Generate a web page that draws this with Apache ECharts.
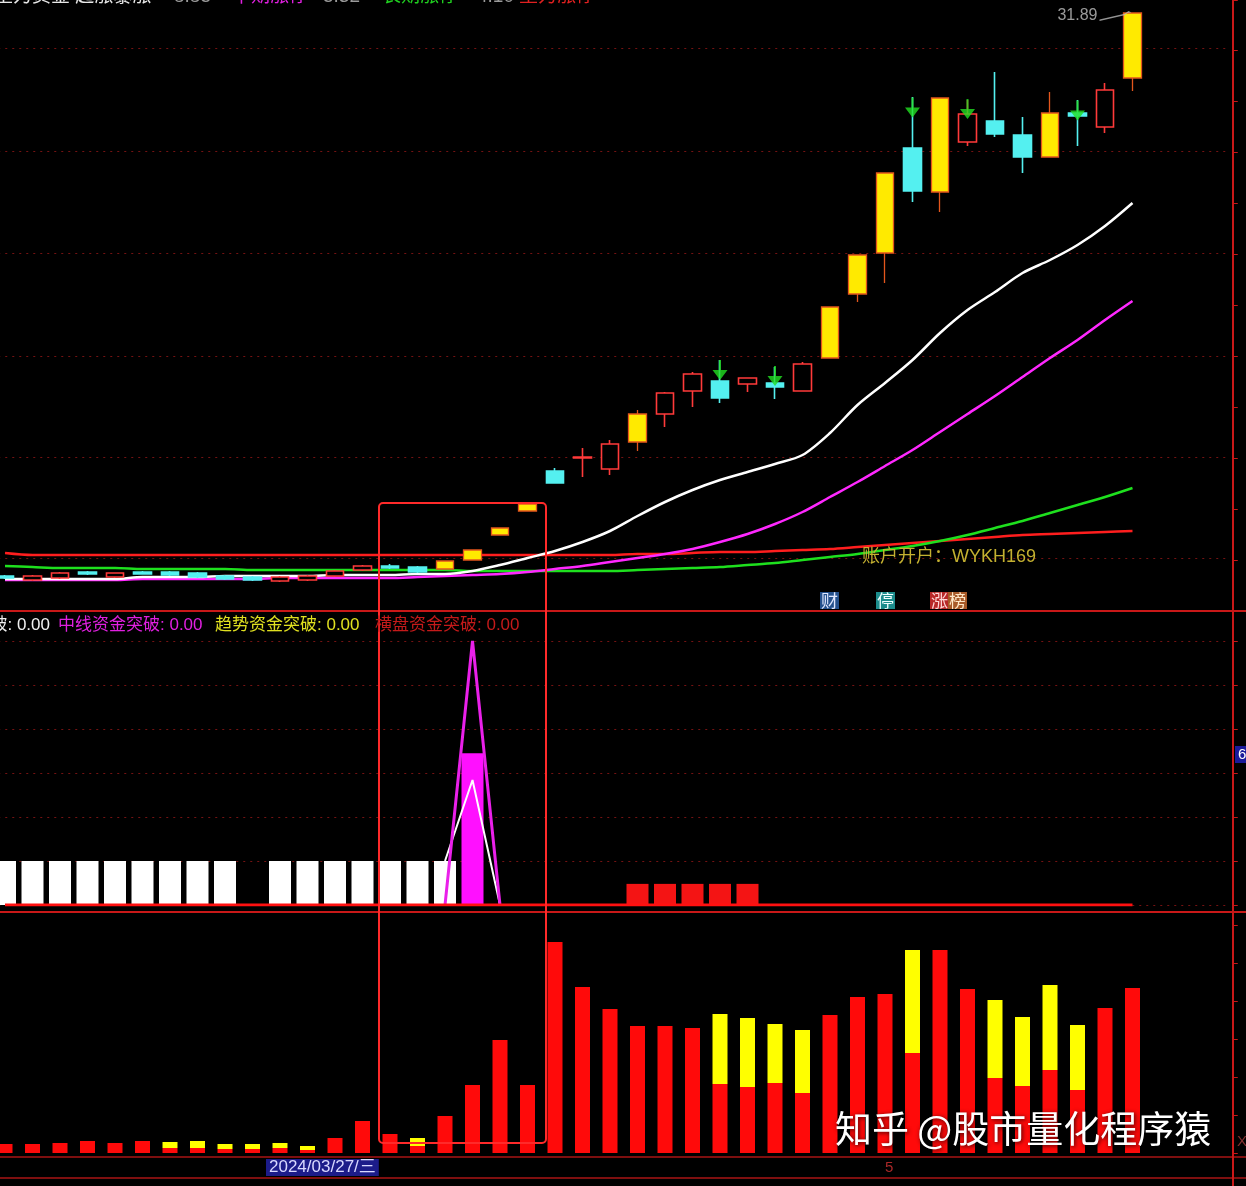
<!DOCTYPE html>
<html><head><meta charset="utf-8">
<script src="https://cdn.jsdelivr.net/npm/echarts@6/dist/echarts.min.js"></script>
<style>html,body{margin:0;padding:0;background:#000;overflow:hidden}#c{width:1246px;height:1186px}</style>
</head><body><div id="c"></div>
<script>
// ---------- data ----------
const dates = ['2024/03/14','2024/03/15','2024/03/18','2024/03/19','2024/03/20','2024/03/21','2024/03/22','2024/03/25','2024/03/26','2024/03/27','2024/03/28','2024/03/29','2024/04/01','2024/04/02','2024/04/03','2024/04/08','2024/04/09','2024/04/10','2024/04/11','2024/04/12','2024/04/15','2024/04/16','2024/04/17','2024/04/18','2024/04/19','2024/04/22','2024/04/23','2024/04/24','2024/04/25','2024/04/26','2024/04/29','2024/04/30','2024/05/06','2024/05/07','2024/05/08','2024/05/09','2024/05/10','2024/05/13','2024/05/14','2024/05/15','2024/05/16','2024/05/17','2024/05/20','2024/05/21','2024/05/22'];
const openP  = [9.37,9.21,9.29,9.53,9.33,9.53,9.53,9.49,9.37,9.33,9.17,9.21,9.37,9.61,9.77,9.73,9.65,10.01,11.01,11.97,13.57,14.09,13.65,14.73,15.85,16.77,17.17,17.05,17.09,16.77,18.09,20.65,22.29,26.49,24.73,26.73,27.57,27.01,26.13,27.89,27.33,29.29];
const closeP = [9.29,9.37,9.49,9.45,9.49,9.45,9.41,9.33,9.25,9.21,9.33,9.37,9.57,9.77,9.69,9.53,9.97,10.41,11.29,12.25,13.09,14.13,14.65,15.85,16.69,17.45,16.49,17.29,16.93,17.85,20.13,22.21,25.49,24.77,28.49,27.85,27.05,26.13,27.89,27.77,28.81,31.89];
const lowP   = [9.25,9.17,9.25,9.41,9.29,9.45,9.37,9.29,9.21,9.17,9.13,9.17,9.33,9.57,9.65,9.49,9.65,10.01,11.01,11.97,13.09,13.33,13.41,14.37,15.33,16.13,16.29,16.73,16.45,16.77,18.09,20.33,21.09,24.33,23.93,26.57,26.93,25.49,26.13,26.57,27.09,28.77];
const highP  = [9.41,9.41,9.53,9.57,9.49,9.57,9.57,9.53,9.41,9.37,9.37,9.41,9.61,9.81,9.85,9.77,9.97,10.41,11.29,12.25,13.69,14.49,14.81,16.01,16.73,17.53,18.01,17.29,17.73,17.93,20.13,22.21,25.49,28.53,28.49,28.41,29.53,27.73,28.73,28.41,29.09,31.89];
const limitUpIdx = [16,17,18,19,23,30,31,32,34,38,41];
const maWhite   = [9.25,9.25,9.25,9.25,9.25,9.33,9.33,9.33,9.37,9.37,9.37,9.37,9.41,9.41,9.41,9.45,9.45,9.57,9.81,10.09,10.37,10.73,11.17,11.77,12.33,12.81,13.21,13.53,13.85,14.21,15.09,16.21,17.09,18.01,19.09,20.01,20.73,21.49,22.01,22.61,23.37,24.29];
const maMagenta = [9.21,9.21,9.21,9.21,9.21,9.25,9.25,9.25,9.25,9.25,9.29,9.29,9.29,9.29,9.29,9.33,9.37,9.41,9.45,9.53,9.65,9.77,9.93,10.09,10.25,10.45,10.73,11.05,11.45,11.93,12.53,13.13,13.77,14.41,15.13,15.85,16.57,17.33,18.09,18.81,19.61,20.37];
const maGreen   = [9.77,9.73,9.69,9.69,9.69,9.65,9.65,9.65,9.65,9.61,9.61,9.61,9.61,9.61,9.61,9.61,9.61,9.57,9.57,9.57,9.57,9.57,9.57,9.61,9.65,9.69,9.73,9.81,9.89,10.01,10.13,10.25,10.41,10.57,10.77,11.01,11.29,11.57,11.89,12.21,12.53,12.89];
const maRed     = [10.29,10.21,10.21,10.21,10.21,10.21,10.21,10.21,10.21,10.21,10.21,10.21,10.21,10.21,10.21,10.21,10.21,10.21,10.21,10.21,10.21,10.21,10.21,10.25,10.25,10.29,10.33,10.33,10.37,10.41,10.45,10.53,10.61,10.69,10.77,10.85,10.93,11.01,11.05,11.09,11.13,11.17];
const arrowSignals = [[26,17.61],[28,17.37],[33,28.11],[35,28.05],[39,27.99]];
const priceGrid = [30.49,26.37,22.29,18.17,14.13,10.09];
const _ = null;
const whiteStick = [1,1,1,1,1,1,1,1,1,0,1,1,1,1,1,1,1,0,0,0,0,0,0,0,0,0,0,0,0,0,0,0,0,0,0,0,0,0,0,0,0,0];
const spikeBar   = [0,0,0,0,0,0,0,0,0,0,0,0,0,0,0,0,0,3.45,0,0,0,0,0,0,0,0,0,0,0,0,0,0,0,0,0,0,0,0,0,0,0,0];
const spikeOuter = [_,_,_,_,_,_,_,_,_,_,_,_,_,_,_,_,0,6,0,_,_,_,_,_,_,_,_,_,_,_,_,_,_,_,_,_,_,_,_,_,_,_];
const spikeInner = [_,_,_,_,_,_,_,_,_,_,_,_,_,_,_,_,1,2.84,0,_,_,_,_,_,_,_,_,_,_,_,_,_,_,_,_,_,_,_,_,_,_,_];
const redBlock   = [0,0,0,0,0,0,0,0,0,0,0,0,0,0,0,0,0,0,0,0,0,0,0,0.48,0.48,0.48,0.48,0.48,0,0,0,0,0,0,0,0,0,0,0,0,0,0];
const baseZero   = [0,0,0,0,0,0,0,0,0,0,0,0,0,0,0,0,0,0,0,0,0,0,0,0,0,0,0,0,0,0,0,0,0,0,0,0,0,0,0,0,0,0];
const volRed    = [9,9,10,12,10,12,5,5,4,4,5,3,15,32,19,7,37,68,113,68,211,166,144,127,127,125,69,66,70,60,138,156,159,100,203,164,75,67,83,63,145,165];
const volYellow = [0,0,0,0,0,0,6,7,5,5,5,4,0,0,0,8,0,0,0,0,0,0,0,0,0,0,70,69,59,63,0,0,0,103,0,0,78,69,85,65,0,0];
const headerTexts = [['主力资金 起涨暴涨','#e8e8e8',-6],['8.85','#9a9a9a',174],['中期涨停','#e020e0',232],['5.32','#9a9a9a',323],['长期涨停','#20d020',382],['4.10','#9a9a9a',477],['主力涨停','#e02020',519]];
const midLegend = [['短线资金突破: 0.00','#f0f0f0'],['中线资金突破: 0.00','#e020e0'],['趋势资金突破: 0.00','#e0e020'],['横盘资金突破: 0.00','#c41a1a']];
const watermark = '知乎 @股市量化程序猿';
const accountText = '账户开户：WYKH169';

// ---------- build ----------
const EN = '"Liberation Sans","Noto Sans CJK SC",sans-serif';
const CN = '"Noto Sans CJK SC",sans-serif';
const RED = '#c81818';
const kData = openP.map((o,i)=>{
  const it = {value:[o, closeP[i], lowP[i], highP[i]]};
  if (limitUpIdx.includes(i)) it.itemStyle = {color:'#ffea00', color0:'#ffea00', borderColor:'#e4561c', borderColor0:'#e4561c', borderWidth:1.3};
  return it;
});
const maxHigh = Math.max(...highP);
const maxIdx = highP.indexOf(maxHigh);
const weekNames = ['日','一','二','三','四','五','六'];
const cursorIdx = 9;
const cd = dates[cursorIdx].split('/').map(Number);
const cursorLabel = dates[cursorIdx] + '/' + weekNames[new Date(cd[0], cd[1]-1, cd[2]).getDay()];

const gridBase = {left:-8.75, width:1237.5, containLabel:false, outerBoundsMode:'none'};
const xAx = (gi, extra) => Object.assign({type:'category', gridIndex:gi, data:dates, boundaryGap:true,
  axisLine:{show:false}, axisTick:{show:false}, axisLabel:{show:false}, splitLine:{show:false}}, extra||{});
const yAx = (gi, extra) => Object.assign({type:'value', gridIndex:gi, position:'right', offset:4, scale:true,
  axisLine:{show:true, lineStyle:{color:RED, width:2}},
  axisTick:{show:true, inside:false, length:5, lineStyle:{color:RED}},
  axisLabel:{show:false}, splitLine:{show:false}}, extra||{});
const dotted = {show:true, lineStyle:{color:'#741212', type:[2,5], width:1}};

const graphics = [];
headerTexts.forEach(([t,c,x])=>graphics.push({type:'text', x:x, y:-13, z:100, style:{text:t, fill:c, fontSize:19, fontFamily:EN}}));
// middle legend
graphics.push({type:'text', x:50, y:617, z:100, style:{text:midLegend[0][0], fill:midLegend[0][1], fontSize:17, fontFamily:EN, align:'right'}});
[[58,1],[215,2],[375,3]].forEach(([x,k])=>graphics.push({type:'text', x:x, y:617, z:100, style:{text:midLegend[k][0], fill:midLegend[k][1], fontSize:17, fontFamily:EN}}));
graphics.push({type:'text', x:862, y:548, z:100, style:{text:accountText, fill:'#c4b030', fontSize:18, fontFamily:EN}});
[['财',820,'#24508c','#e0e8ff'],['停',876,'#1c8c8c','#f0ffff'],['涨',930,'#b82828','#ffd8d8'],['榜',948,'#a85a28','#ffe8c8']].forEach(([t,x,bg,fc])=>
  graphics.push({type:'text', x:x, y:592, z:100, style:{text:t, fill:fc, fontSize:17, fontFamily:CN, backgroundColor:bg, padding:[0,1]}}));
// frame
[[611,2,RED],[912,2,RED],[1157,1.5,'#a81414'],[1178,1.5,'#a81414']].forEach(([y,w,c])=>
  graphics.push({type:'line', z:90, shape:{x1:0,y1:y,x2:1246,y2:y}, style:{stroke:c, lineWidth:w}}));
graphics.push({type:'line', z:90, shape:{x1:1233,y1:0,x2:1233,y2:1186}, style:{stroke:RED, lineWidth:2}});
// annotation box
graphics.push({type:'rect', z:95, shape:{x:379,y:503,width:167,height:640,r:4}, style:{fill:'none', stroke:'#ff2a2a', lineWidth:2}});
// date cursor label
graphics.push({type:'text', x:266, y:1159, z:100, style:{text:cursorLabel, fill:'#d8d8ff', fontSize:17, fontFamily:EN, backgroundColor:'#1c1c8a', padding:[0,3]}});
// right axis value box
graphics.push({type:'text', x:1235, y:746, z:100, style:{text:'6', fill:'#ffffff', fontSize:15, fontFamily:EN, backgroundColor:'#1a1a9a', padding:[1,3]}});
graphics.push({type:'text', x:1237, y:1134, z:100, style:{text:'X', fill:'#803030', fontSize:15, fontFamily:EN}});
// watermark
graphics.push({type:'text', x:835, y:1110, z:100, style:{text:watermark, fill:'#ffffff', fontSize:37, fontFamily:CN, textShadowColor:'rgba(0,0,0,0.8)', textShadowBlur:4, textShadowOffsetX:1, textShadowOffsetY:1}});

const option = {
  backgroundColor:'#000000',
  animation:false,
  grid:[
    Object.assign({top:0, height:611}, gridBase),
    Object.assign({top:611, height:294}, gridBase),
    Object.assign({top:912, height:241}, gridBase)
  ],
  xAxis:[ xAx(0), xAx(1), xAx(2, {axisLabel:{show:true, margin:7, align:'left', color:'#a82828', fontSize:15, fontFamily:EN,
      interval:(idx,val)=> idx>0 && val.slice(5,7)!==dates[idx-1].slice(5,7),
      formatter:(v)=>String(parseInt(v.slice(5,7),10))}}) ],
  yAxis:[
    yAx(0, {min:7.97, max:32.41, interval:2.04, scale:false}),
    yAx(1, {min:0, max:6.682, interval:1, scale:false, splitLine:dotted}),
    yAx(2, {min:0, max:241, interval:38, scale:false})
  ],
  series:[
    {type:'line', name:'grid', xAxisIndex:0, yAxisIndex:0, data:[], z:1,
      markLine:{silent:true, z:1, symbol:'none', label:{show:false}, lineStyle:{color:'#741212', type:[2,5], width:1},
        data:priceGrid.map(v=>({yAxis:v}))}},
    {type:'line', name:'MA-red', data:maRed, xAxisIndex:0, yAxisIndex:0, showSymbol:false, smooth:0.3, z:2, lineStyle:{color:'#ff1e1e', width:2.5}},
    {type:'line', name:'MA-green', data:maGreen, xAxisIndex:0, yAxisIndex:0, showSymbol:false, smooth:0.3, z:2, lineStyle:{color:'#1ee01e', width:2.5}},
    {type:'line', name:'MA-magenta', data:maMagenta, xAxisIndex:0, yAxisIndex:0, showSymbol:false, smooth:0.3, z:2, lineStyle:{color:'#ff28ff', width:2.5}},
    {type:'line', name:'MA-white', data:maWhite, xAxisIndex:0, yAxisIndex:0, showSymbol:false, smooth:0.3, z:2, lineStyle:{color:'#ffffff', width:2.5}},
    {type:'candlestick', name:'K', data:kData, xAxisIndex:0, yAxisIndex:0, barWidth:18, z:3,
      itemStyle:{color:'#000000', color0:'#54f0f0', borderColor:'#ff3a3a', borderColor0:'#54f0f0', borderWidth:1.6}},
    {type:'scatter', name:'signal', data:arrowSignals, xAxisIndex:0, yAxisIndex:0, z:4,
      symbol:'path://M6.5,0 L8.5,0 L8.5,10 L15,10 L7.5,20 L0,10 L6.5,10 Z', symbolSize:[15,20],
      itemStyle:{color:'#22e022'}},
    {type:'scatter', name:'maxLabel', data:[[maxIdx, maxHigh]], xAxisIndex:0, yAxisIndex:0, z:4,
      symbol:'path://M0,9 L25,3 L29,0 L32,1.5 L28,2.2 L25,4.5 L0,10.5 Z', symbolSize:[32,10], symbolOffset:[-17,3],
      itemStyle:{color:'#b8b8b8'},
      label:{show:true, position:'left', distance:2, color:'#c0c0c0', fontSize:16, fontFamily:EN, formatter:(p)=>p.value[1].toFixed(2)}},
    // middle panel
    {type:'bar', name:'white', data:whiteStick, xAxisIndex:1, yAxisIndex:1, stack:'mid', barWidth:22, itemStyle:{color:'#ffffff'}, z:2},
    {type:'bar', name:'spike', data:spikeBar, xAxisIndex:1, yAxisIndex:1, stack:'mid', itemStyle:{color:'#ff10ff'}, z:2},
    {type:'bar', name:'redBlock', data:redBlock, xAxisIndex:1, yAxisIndex:1, stack:'mid', itemStyle:{color:'#f41414'}, z:2},
    {type:'line', name:'inner', data:spikeInner, xAxisIndex:1, yAxisIndex:1, showSymbol:false, z:3, lineStyle:{color:'#ffffff', width:2}},
    {type:'line', name:'outer', data:spikeOuter, xAxisIndex:1, yAxisIndex:1, showSymbol:false, z:4, lineStyle:{color:'#ea20ea', width:3}},
    {type:'line', name:'base', data:baseZero, xAxisIndex:1, yAxisIndex:1, showSymbol:false, z:5, lineStyle:{color:'#ff1010', width:3}},
    // volume
    {type:'bar', name:'volRed', data:volRed, xAxisIndex:2, yAxisIndex:2, stack:'vol', barWidth:15, itemStyle:{color:'#ff0a0a'}, z:2},
    {type:'bar', name:'volYellow', data:volYellow, xAxisIndex:2, yAxisIndex:2, stack:'vol', itemStyle:{color:'#ffff00'}, z:2}
  ],
  graphic:graphics
};
const chart = echarts.init(document.getElementById('c'));
chart.setOption(option);
</script>
</body></html>
